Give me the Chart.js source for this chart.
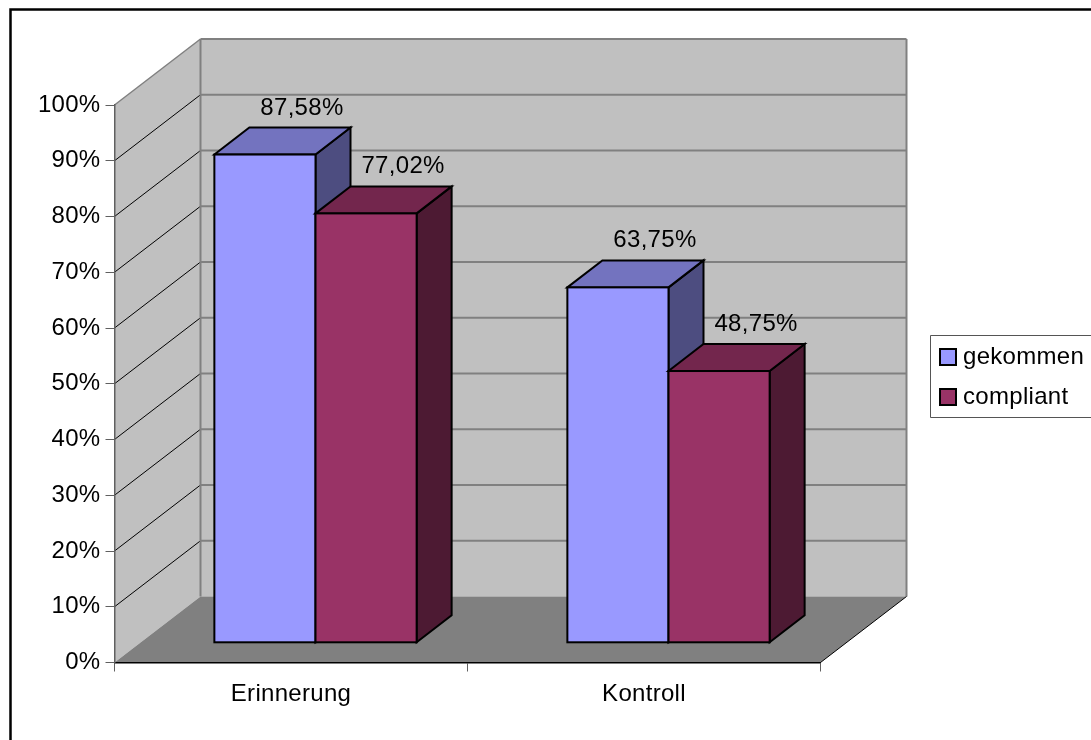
<!DOCTYPE html>
<html>
<head>
<meta charset="utf-8">
<style>
  html, body { margin: 0; background: #fff; }
  canvas { display: block; }
</style>
<script src="https://cdn.jsdelivr.net/npm/chart.js@4"></script>
</head>
<body>
<canvas id="myChart" width="1091" height="740"></canvas>
<script>
const categories = ['Erinnerung', 'Kontroll'];
const gekommen = [87.58, 63.75];
const compliant = [77.02, 48.75];

const FONT = { family: '"Liberation Sans", Arial, sans-serif', size: 24 };

// colours per series: front, top, side
const faces = [
  { front: '#9999FF', top: '#7373BF', side: '#4D4D80' },
  { front: '#993366', top: '#73264D', side: '#4D1A33' },
];

const WALL = { x: 86, y: 66 };   // depth of the floor
const BAR_SHIFT = { x: 24.5, y: 19.7 }; // bars stand this far back on the floor
const BAR_DEPTH = { x: 35, y: 27 };

function poly(ctx, pts) {
  ctx.beginPath();
  pts.forEach((p, i) => (i ? ctx.lineTo(p[0], p[1]) : ctx.moveTo(p[0], p[1])));
  ctx.closePath();
}

function line(ctx, x1, y1, x2, y2, color, width) {
  ctx.strokeStyle = color;
  ctx.lineWidth = width;
  ctx.beginPath();
  ctx.moveTo(x1, y1);
  ctx.lineTo(x2, y2);
  ctx.stroke();
}

// legend swatch: the legend draws a canvas point style at its own size
function swatch(color) {
  const c = document.createElement('canvas');
  c.width = 18;
  c.height = 18;
  const g = c.getContext('2d');
  g.fillStyle = color;
  g.fillRect(0, 0, 18, 18);
  g.strokeStyle = '#000';
  g.lineWidth = 2;
  g.strokeRect(1, 1, 16, 16);
  return c;
}

const scene3d = {
  id: 'scene3d',
  afterLayout(chart) {
    const legend = chart.legend;
    legend.left = 929;
    legend.right = 1091;
    legend.top = 329;
    legend.bottom = 740; // the legend wraps to a new column past this
  },
  beforeDraw(chart) {
    const { ctx, chartArea: a, scales } = chart;
    const y = scales.y;
    ctx.letterSpacing = '0.3px';
    ctx.save();

    // page frame, cut off on the right and at the bottom
    ctx.strokeStyle = '#000';
    ctx.lineWidth = 2.5;
    ctx.beginPath();
    ctx.moveTo(10.5, 740);
    ctx.lineTo(10.5, 9.5);
    ctx.lineTo(1091, 9.5);
    ctx.stroke();

    // side wall and back wall
    ctx.fillStyle = '#C0C0C0';
    poly(ctx, [[a.left, a.bottom], [a.left + WALL.x, a.bottom - WALL.y], [a.left + WALL.x, a.top - WALL.y], [a.left, a.top]]);
    ctx.fill();
    poly(ctx, [[a.left + WALL.x, a.top - WALL.y], [a.right + WALL.x, a.top - WALL.y], [a.right + WALL.x, a.bottom - WALL.y], [a.left + WALL.x, a.bottom - WALL.y]]);
    ctx.fill();

    // floor
    ctx.fillStyle = '#808080';
    poly(ctx, [[a.left, a.bottom], [a.right, a.bottom], [a.right + WALL.x, a.bottom - WALL.y], [a.left + WALL.x, a.bottom - WALL.y]]);
    ctx.fill();

    // gridlines run along the side wall and across the back wall
    y.ticks.forEach((t) => {
      const py = y.getPixelForValue(t.value);
      if (t.value > 0) {
        line(ctx, a.left + WALL.x, py - WALL.y, a.right + WALL.x, py - WALL.y, '#808080', 2);
        line(ctx, a.left, py, a.left + WALL.x, py - WALL.y, t.value === 100 ? '#808080' : '#000', t.value === 100 ? 1.5 : 1);
      }
    });
    line(ctx, a.left + WALL.x, a.top - WALL.y, a.left + WALL.x, a.bottom - WALL.y, '#808080', 2);
    line(ctx, a.right + WALL.x, a.top - WALL.y, a.right + WALL.x, a.bottom - WALL.y, '#808080', 2);
    line(ctx, a.right, a.bottom, a.right + WALL.x, a.bottom - WALL.y, '#000', 1);

    // legend box
    ctx.strokeStyle = '#555';
    ctx.lineWidth = 1;
    ctx.beginPath();
    ctx.moveTo(1091, 335.5);
    ctx.lineTo(930.5, 335.5);
    ctx.lineTo(930.5, 417.5);
    ctx.lineTo(1091, 417.5);
    ctx.stroke();

    ctx.restore();
  },
  beforeDatasetsDraw(chart) {
    const ctx = chart.ctx;
    ctx.save();
    ctx.translate(BAR_SHIFT.x, -BAR_SHIFT.y);
    ctx.lineWidth = 2;
    ctx.strokeStyle = '#000';
    ctx.lineJoin = 'miter';

    // blue first so the red front hides the blue side
    chart.data.datasets.forEach((ds, i) => {
      chart.getDatasetMeta(i).data.forEach((bar) => {
        const l = bar.x - bar.width / 2;
        const r = bar.x + bar.width / 2;
        const dx = BAR_DEPTH.x;
        const dy = BAR_DEPTH.y;
        ctx.fillStyle = faces[i].side;
        poly(ctx, [[r, bar.y], [r + dx, bar.y - dy], [r + dx, bar.base - dy], [r, bar.base]]);
        ctx.fill();
        ctx.stroke();
        ctx.fillStyle = faces[i].top;
        poly(ctx, [[l, bar.y], [l + dx, bar.y - dy], [r + dx, bar.y - dy], [r, bar.y]]);
        ctx.fill();
        ctx.stroke();
        bar.draw(ctx);
        ctx.strokeRect(l, bar.y, bar.width, bar.base - bar.y);
      });
    });

    // value labels above the back edge of each bar
    ctx.fillStyle = '#000';
    ctx.font = FONT.size + 'px ' + FONT.family;
    ctx.textAlign = 'center';
    ctx.textBaseline = 'alphabetic';
    chart.data.datasets.forEach((ds, i) => {
      chart.getDatasetMeta(i).data.forEach((bar, j) => {
        const text = ds.data[j].toFixed(2).replace('.', ',') + '%';
        ctx.fillText(text, bar.x + BAR_DEPTH.x + 2, bar.y - BAR_DEPTH.y - 13);
      });
    });
    ctx.restore();
    return false;
  },
};

new Chart('myChart', {
  type: 'bar',
  data: {
    labels: categories,
    datasets: [
      { label: 'gekommen', data: gekommen, backgroundColor: faces[0].front, borderWidth: 0, pointStyle: swatch(faces[0].front) },
      { label: 'compliant', data: compliant, backgroundColor: faces[1].front, borderWidth: 0, pointStyle: swatch(faces[1].front) },
    ],
  },
  options: {
    responsive: false,
    animation: false,
    layout: { padding: { left: 0, top: 105, right: 1091 - 820.5, bottom: 0 } },
    categoryPercentage: 0.573,
    barPercentage: 1,
    scales: {
      x: {
        afterFit: (s) => { s.height = 77.5; },
        grid: { drawOnChartArea: false, tickLength: 9, color: '#606060' },
        border: { color: '#000', width: 1.5 },
        ticks: { color: '#000', font: FONT, padding: 8 },
      },
      y: {
        min: 0,
        max: 100,
        afterFit: (s) => { s.width = 114.5; },
        grid: { drawOnChartArea: false, tickLength: 9, color: '#606060' },
        border: { color: '#606060', width: 1.5 },
        ticks: { stepSize: 10, color: '#000', font: FONT, padding: 5, callback: (v) => v + '%' },
      },
    },
    plugins: {
      tooltip: { enabled: false },
      legend: {
        position: 'chartArea',
        align: 'start',
        labels: {
          color: '#000',
          font: FONT,
          usePointStyle: true,
          pointStyleWidth: 6,
          boxHeight: 18,
          padding: 16,
        },
      },
    },
  },
  plugins: [scene3d],
});
</script>
</body>
</html>
